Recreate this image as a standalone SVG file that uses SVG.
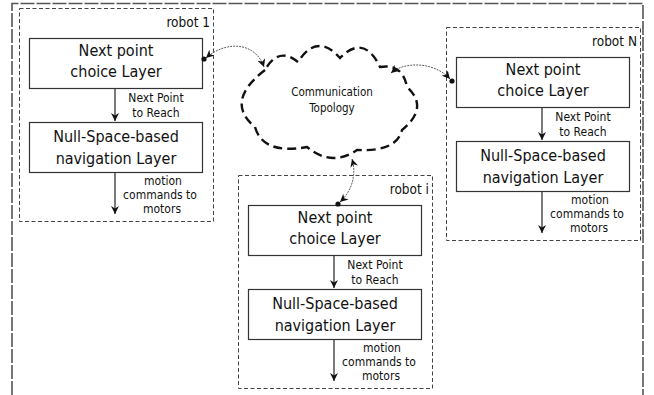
<svg xmlns="http://www.w3.org/2000/svg" width="654" height="395" viewBox="0 0 654 395">
  <style>
    text { font-family: "DejaVu Sans Condensed", "DejaVu Sans", sans-serif; fill: #111; text-anchor: middle; }
    .big { font-size: 16px; }
    .small { font-size: 12px; }
    .tag { font-size: 13.5px; text-anchor: end; }
    .cloudtxt { font-size: 11.5px; }
    .frame { fill: none; stroke: #555; stroke-width: 1.6; stroke-dasharray: 14 2; }
    .group { fill: none; stroke: #444; stroke-width: 1; stroke-dasharray: 4 2.5; }
    .layer { fill: #fff; stroke: #333; stroke-width: 1.2; }
    .flow { fill: none; stroke: #222; stroke-width: 1.2; marker-end: url(#head); }
    .link { fill: none; stroke: #333; stroke-width: 0.8; stroke-dasharray: 2 1; marker-start: url(#tip); marker-end: url(#tip); }
    .cloud { fill: #fff; stroke: #111; stroke-width: 2.4; stroke-dasharray: 9 5; }
  </style>
  <defs>
    <marker id="head" viewBox="0 0 10 10" refX="10" refY="5" markerWidth="8" markerHeight="10" markerUnits="userSpaceOnUse" orient="auto">
      <path d="M0,0 L10,5 L0,10 L3,5 Z" fill="#111"/>
    </marker>
    <marker id="tip" viewBox="0 0 10 10" refX="10" refY="5" markerWidth="8" markerHeight="8" markerUnits="userSpaceOnUse" orient="auto-start-reverse">
      <path d="M0,0 L10,5 L0,10 L3,5 Z" fill="#111"/>
    </marker>
    <!-- one robot: two stacked layers inside a dashed enclosure -->
    <g id="robot-body">
      <rect class="group" x="19.5" y="8.5" width="194" height="213"/>
      <rect class="layer" x="29.5" y="38.5" width="173" height="50"/>
      <text class="big" x="116" y="56">Next point</text>
      <text class="big" x="116" y="77">choice Layer</text>
      <path class="flow" d="M115,89 V121"/>
      <text class="small" x="156" y="102">Next Point</text>
      <text class="small" x="156" y="117">to Reach</text>
      <rect class="layer" x="29.5" y="122.5" width="173" height="50"/>
      <text class="big" x="116" y="142">Null-Space-based</text>
      <text class="big" x="116" y="164">navigation Layer</text>
      <path class="flow" d="M115,173 V214"/>
      <text class="small" x="163" y="185">motion</text>
      <text class="small" x="160" y="199">commands to</text>
      <text class="small" x="162" y="213">motors</text>
    </g>
  </defs>

  <!-- outer frame -->
  <path class="frame" d="M12,395 V3.5 H643 V395"/>

  <g id="robot-1">
    <use href="#robot-body"/>
    <text class="tag" x="210" y="27">robot 1</text>
  </g>

  <g id="robot-N">
    <use href="#robot-body" transform="translate(427,19)"/>
    <text class="tag" x="637" y="46">robot N</text>
  </g>

  <g id="robot-i">
    <use href="#robot-body" transform="translate(219,167)"/>
    <text class="tag" x="429" y="194">robot i</text>
  </g>

  <g id="communication-topology">
    <path class="cloud" d="M265,70 Q224,101.5 255,127 Q263,155 307,147 Q332,167.5 357,150 Q396.5,152 402,130 Q429.5,107.5 407,87 Q402.5,63 380,67 Q364,33.5 340,58 Q317,32 298,62 Q278.5,46 265,70 Z"/>
    <text class="cloudtxt" x="332" y="96">Communication</text>
    <text class="cloudtxt" x="332" y="112">Topology</text>
  </g>

  <g id="connectors">
    <path class="link" d="M206,58 C225,41 255,41 264,67"/>
    <circle cx="204" cy="59" r="2.6" fill="#111"/>
    <path class="link" d="M391,73 C405,61 435,62 450,79"/>
    <circle cx="452" cy="81" r="2.6" fill="#111"/>
    <path class="link" d="M352,159 C357,176 351,192 340,202"/>
    <circle cx="338" cy="204" r="2.6" fill="#111"/>
  </g>
</svg>
